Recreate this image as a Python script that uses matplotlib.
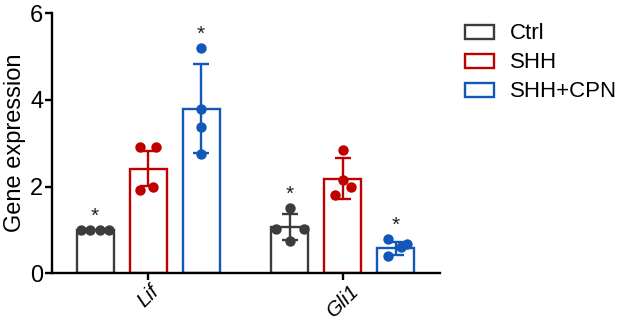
import matplotlib
matplotlib.use("Agg")
import matplotlib.pyplot as plt
import numpy as np
from matplotlib.patches import Patch

plt.rcParams['font.family'] = ['Liberation Sans', 'DejaVu Sans']

genes = ["Lif", "Gli1"]
groups = ["Ctrl", "SHH", "SHH+CPN"]
colors = ["#3c3c3c", "#c00000", "#1158b8"]

# individual points per gene per group
lif_ctrl = [1.0, 1.0, 1.0, 1.0]
lif_shh = [2.92, 2.92, 1.92, 2.0]
lif_cpn = [5.19, 3.80, 3.37, 2.76]
gli1_ctrl = [1.50, 1.02, 1.02, 0.74]
gli1_shh = [2.84, 2.14, 1.98, 1.80]
gli1_cpn = [0.79, 0.67, 0.60, 0.40]

# bar means and SD
means_lif = [1.0, 2.41, 3.80]
means_gli1 = [1.06, 2.18, 0.57]
sd_lif = [0.0, 0.40, 1.02]
sd_gli1 = [0.30, 0.47, 0.16]

significant_lif = [True, False, True]
significant_gli1 = [True, False, True]

points = [[lif_ctrl, lif_shh, lif_cpn], [gli1_ctrl, gli1_shh, gli1_cpn]]
means = [means_lif, means_gli1]
sds = [sd_lif, sd_gli1]
sigs = [significant_lif, significant_gli1]

# horizontal jitter offsets (fraction of bar width)
jitter = [
    [[-0.38, -0.13, 0.13, 0.38], [-0.22, 0.22, -0.22, 0.12], [0.0, 0.0, 0.0, 0.0]],
    [[0.0, -0.38, 0.38, 0.0], [0.0, 0.0, 0.22, -0.22], [-0.2, 0.3, 0.15, -0.2]],
]

fig = plt.figure(figsize=(6.27, 3.24), dpi=100)
ax = fig.add_axes([0.0825, 0.157, 0.6195, 0.802])

offset = 0.272
width = 0.19
for gi, gene in enumerate(genes):
    for k in range(3):
        x = gi + (k - 1) * offset
        c = colors[k]
        ax.bar(x, means[gi][k], width=width, facecolor="white", edgecolor=c,
               linewidth=1.7, zorder=2)
        if sds[gi][k] > 0:
            ax.errorbar(x, means[gi][k], yerr=sds[gi][k], color=c, capsize=6,
                        elinewidth=1.7, capthick=1.7, zorder=3, fmt='none')
        xs = [x + j * width for j in jitter[gi][k]]
        ax.plot(xs, points[gi][k], 'o', color=c, markersize=7.5, zorder=4,
                markeredgewidth=0)
        if sigs[gi][k]:
            ytop = max(max(points[gi][k]), means[gi][k] + sds[gi][k])
            ax.text(x, ytop + 0.32, "*", ha="center", va="center",
                    fontsize=15, color="#222222")

ax.set_xlim(-0.495, 1.50)
ax.set_ylim(0, 6)
ax.set_yticks([0, 2, 4, 6])
ax.set_xticks([0, 1])
ax.set_xticklabels(genes, rotation=45, ha="center", va="top",
                   fontstyle="italic", fontsize=15)
ax.tick_params(axis='y', labelsize=17, width=1.7, length=5, pad=1)
ax.tick_params(axis='x', width=1.7, length=5, pad=1)
ax.set_ylabel("Gene expression", fontsize=17, labelpad=3)
for s in ["top", "right"]:
    ax.spines[s].set_visible(False)
for s in ["left", "bottom"]:
    ax.spines[s].set_linewidth(1.7)

handles = [Patch(facecolor="white", edgecolor=c, linewidth=1.7, label=g)
           for g, c in zip(groups, colors)]
fig.legend(handles=handles, loc="upper left", bbox_to_anchor=(0.728, 0.955),
           borderaxespad=0, frameon=False, fontsize=16, handlelength=1.3,
           handleheight=0.6, labelspacing=0.36, handletextpad=0.7)

fig.savefig("out.png", dpi=100)
